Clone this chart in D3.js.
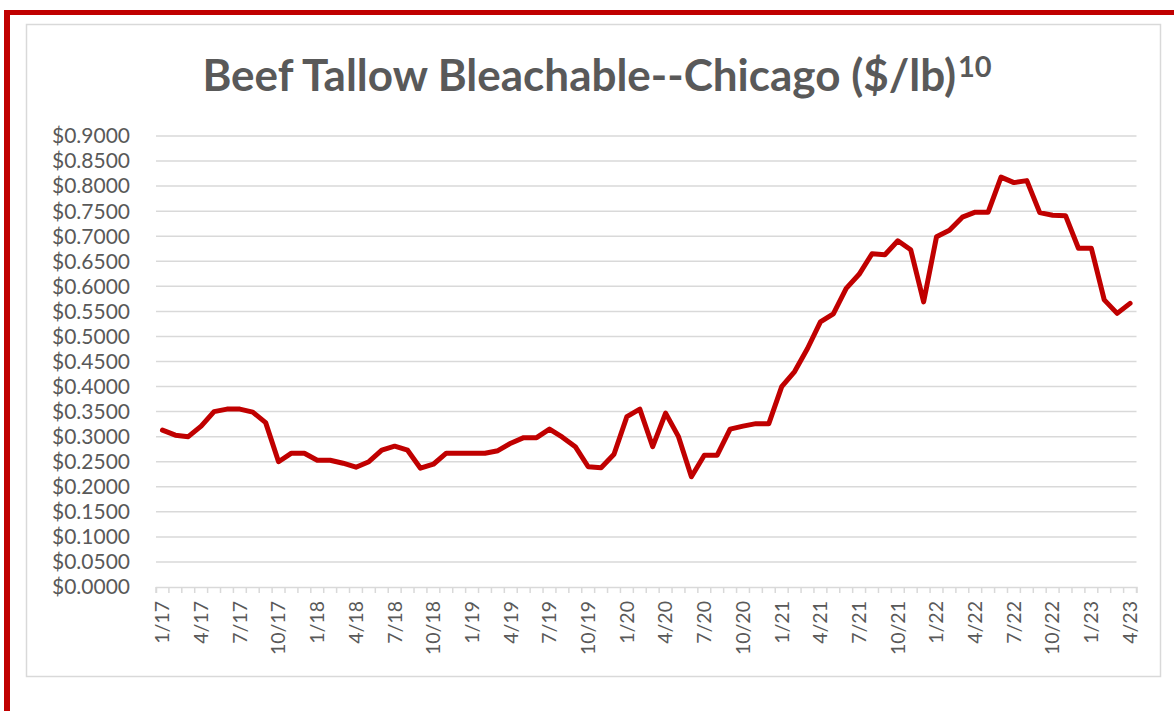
<!DOCTYPE html>
<html>
<head>
<meta charset="utf-8">
<script src="https://cdn.jsdelivr.net/npm/d3@7"></script>
<style>
    html, body { margin: 0; padding: 0; background: #fff; }
    svg { display: block; }
</style>
</head>
<body>
<div id="chart"></div>
<script>
var months = [
    "1/17","2/17","3/17","4/17","5/17","6/17","7/17","8/17","9/17","10/17","11/17","12/17",
    "1/18","2/18","3/18","4/18","5/18","6/18","7/18","8/18","9/18","10/18","11/18","12/18",
    "1/19","2/19","3/19","4/19","5/19","6/19","7/19","8/19","9/19","10/19","11/19","12/19",
    "1/20","2/20","3/20","4/20","5/20","6/20","7/20","8/20","9/20","10/20","11/20","12/20",
    "1/21","2/21","3/21","4/21","5/21","6/21","7/21","8/21","9/21","10/21","11/21","12/21",
    "1/22","2/22","3/22","4/22","5/22","6/22","7/22","8/22","9/22","10/22","11/22","12/22",
    "1/23","2/23","3/23","4/23"
];

var prices = [
    0.313, 0.303, 0.300, 0.321, 0.350, 0.355, 0.355, 0.349, 0.328, 0.250, 0.267, 0.267,
    0.253, 0.253, 0.247, 0.239, 0.250, 0.273, 0.281, 0.273, 0.237, 0.245, 0.267, 0.267,
    0.267, 0.267, 0.272, 0.287, 0.298, 0.298, 0.315, 0.299, 0.280, 0.240, 0.238, 0.265,
    0.340, 0.355, 0.280, 0.347, 0.300, 0.220, 0.263, 0.263, 0.315, 0.321, 0.326, 0.326,
    0.400, 0.430, 0.476, 0.529, 0.545, 0.596, 0.624, 0.665, 0.663, 0.691, 0.673, 0.569,
    0.699, 0.712, 0.738, 0.748, 0.748, 0.818, 0.807, 0.811, 0.747, 0.742, 0.741, 0.676,
    0.676, 0.573, 0.546, 0.566
];

var tickLabels = ["1/17","4/17","7/17","10/17","1/18","4/18","7/18","10/18","1/19","4/19","7/19","10/19",
    "1/20","4/20","7/20","10/20","1/21","4/21","7/21","10/21","1/22","4/22","7/22","10/22","1/23","4/23"];

var yTicks = [0, 0.05, 0.1, 0.15, 0.2, 0.25, 0.3, 0.35, 0.4, 0.45, 0.5, 0.55, 0.6, 0.65, 0.7, 0.75, 0.8, 0.85, 0.9];

var W = 1174, H = 711;
var plot = { left: 156, right: 1136.5, top: 136, bottom: 587 };
var red = "#c00000", grid = "#d9d9d9", txt = "#595959";
var font = "Lato, 'Open Sans', sans-serif";

var svg = d3.select("#chart")
    .append("svg")
    .attr("width", W)
    .attr("height", H);

// slide frame
svg.append("rect").attr("x", 4).attr("y", 10).attr("width", 6).attr("height", H - 10).attr("fill", red);
svg.append("rect").attr("x", 4).attr("y", 10).attr("width", W - 4).attr("height", 5).attr("fill", red);

// chart box
svg.append("rect")
    .attr("x", 26.5).attr("y", 24.5)
    .attr("width", 1134).attr("height", 652)
    .attr("fill", "#fff")
    .attr("stroke", grid)
    .attr("stroke-width", 1.5);

var x = d3.scaleBand()
    .domain(months)
    .range([plot.left, plot.right])
    .padding(0);

var y = d3.scaleLinear()
    .domain([0, 0.9])
    .range([plot.bottom, plot.top]);

// gridlines
svg.append("g")
    .selectAll("line")
    .data(yTicks.slice(1))
    .enter()
    .append("line")
    .attr("x1", plot.left).attr("x2", plot.right)
    .attr("y1", function(d) { return y(d); })
    .attr("y2", function(d) { return y(d); })
    .attr("stroke", grid)
    .attr("stroke-width", 1.5);

// y axis labels
svg.append("g")
    .selectAll("text")
    .data(yTicks)
    .enter()
    .append("text")
    .attr("x", 130)
    .attr("y", function(d) { return y(d); })
    .attr("dy", "0.35em")
    .attr("text-anchor", "end")
    .attr("fill", txt)
    .style("font-family", font)
    .style("font-size", "21px")
    .text(function(d) { return "$" + d.toFixed(4); });

// x axis
var xAxis = d3.axisBottom(x)
    .tickValues(months)
    .tickSize(6)
    .tickFormat(function(d) { return tickLabels.indexOf(d) >= 0 ? d : ""; });

var gx = svg.append("g")
    .attr("transform", "translate(0," + plot.bottom + ")")
    .call(xAxis);

gx.select(".domain").attr("stroke", grid).attr("stroke-width", 1.5);
gx.selectAll(".tick line")
    .attr("stroke", grid)
    .attr("stroke-width", 1.5)
    .attr("transform", "translate(" + (-x.bandwidth() / 2) + ",0)");
gx.append("line")
    .attr("x1", plot.right).attr("x2", plot.right)
    .attr("y1", 0).attr("y2", 6)
    .attr("stroke", grid).attr("stroke-width", 1.5);
gx.selectAll(".tick text")
    .attr("fill", txt)
    .style("font-family", font)
    .style("font-size", "19.5px")
    .attr("text-anchor", "end")
    .attr("transform", "rotate(-90)")
    .attr("x", -14)
    .attr("y", 0)
    .attr("dy", "0.35em");

// series line
var line = d3.line()
    .x(function(d, i) { return x(months[i]) + x.bandwidth() / 2; })
    .y(function(d) { return y(d); });

svg.append("path")
    .datum(prices)
    .attr("d", line)
    .attr("fill", "none")
    .attr("stroke", red)
    .attr("stroke-width", 5)
    .attr("stroke-linejoin", "round")
    .attr("stroke-linecap", "round");

// title
var title = svg.append("text")
    .attr("x", 597)
    .attr("y", 91)
    .attr("text-anchor", "middle")
    .attr("fill", txt)
    .style("font-family", font)
    .style("font-weight", "bold");
title.append("tspan")
    .style("font-size", "44px")
    .text("Beef Tallow Bleachable--Chicago ($/lb)");
title.append("tspan")
    .attr("dy", -14)
    .attr("dx", 2)
    .style("font-size", "29px")
    .text("10");
</script>
</body>
</html>
